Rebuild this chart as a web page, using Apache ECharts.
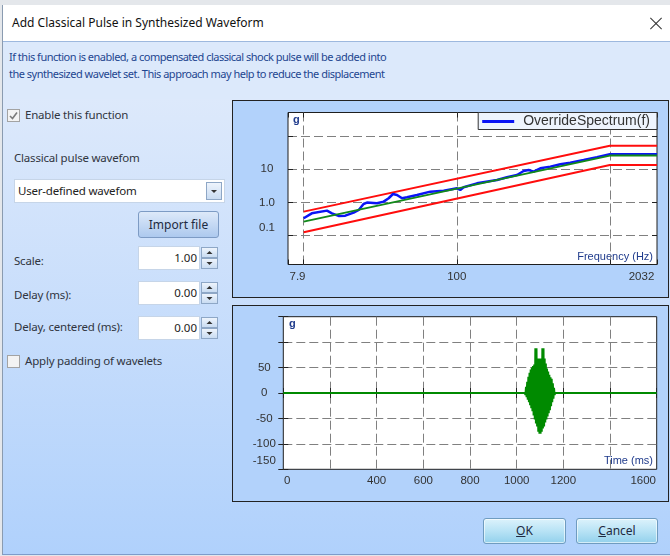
<!DOCTYPE html>
<html>
<head>
<meta charset="utf-8">
<title>Add Classical Pulse in Synthesized Waveform</title>
<script src="https://cdn.jsdelivr.net/npm/echarts@6/dist/echarts.min.js"></script>
<style>
  body { margin: 0; width: 670px; height: 556px; overflow: hidden; background: #e4e7eb; position: relative; font-family: "Noto Sans", sans-serif; }
  .abs { position: absolute; }
  .dlg { left: 2px; top: 5px; width: 667px; height: 549px; border-left: 1px solid #8a9bb0; border-bottom: 1px solid #7e9ccb;
         background: linear-gradient(to bottom, #dde9fb 0px, #dde9fb 93px, #b0d1fc 549px); }
  .titlebar { left: 3px; top: 5px; width: 667px; height: 36px; background: #fff; }
  .title { left: 12px; top: 5px; height: 36px; line-height: 36px; font-size: 12px; color: #111; }
  .xline { width: 16px; height: 1px; background: #333; left: 648px; top: 23px; }
  .info { left: 3px; top: 41px; width: 667px; height: 57px; background: #dce9fb; border-top: 1px solid #9db8de; }
  .infotext { left: 9px; top: 48px; font-size: 11px; line-height: 17px; letter-spacing: -0.5px; color: #1e4690; white-space: nowrap; }
  .lbl { font-size: 11.5px; color: #303540; white-space: nowrap; letter-spacing: -0.2px; }
  .chk { width: 11px; height: 11px; border: 1px solid #a3a3a3; background: #f3f3f3; }
  .field { background: #fff; border: 1px solid #c6d5e8; box-sizing: border-box; }
  .val { font-size: 11.5px; color: #222; text-align: right; padding-right: 2px; line-height: 21px; }
  .spin { width: 17px; height: 11px; box-sizing: border-box; border: 1px solid #8ea7c6; background: linear-gradient(#eef4fc, #c9dcf2); }
  .btn { box-sizing: border-box; border: 1px solid #7d9bc4; border-radius: 3px; text-align: center; font-size: 12px; color: #1e2a40; }
  .imp { background: linear-gradient(#dde9f9, #adc9ee); }
  .okbtn { border-color: #6f9cc0; background: linear-gradient(#dcf2fb 0%, #b8e3f5 50%, #92d1ec 100%); box-shadow: inset 0 0 0 1px rgba(255,255,255,0.6); line-height: 24px; }
  .panel { box-sizing: border-box; border: 1px solid #222; background: #b2d2fb; }
</style>
</head>
<body>
<div class="abs dlg"></div>
<div class="abs titlebar"></div>
<div class="abs title">Add Classical Pulse in Synthesized Waveform</div>
<div class="abs xline" style="transform: rotate(45deg)"></div>
<div class="abs xline" style="transform: rotate(-45deg)"></div>
<div class="abs info"></div>
<div class="abs infotext">If this function is enabled, a compensated classical shock pulse will be added into<br>the synthesized wavelet set. This approach may help to reduce the displacement</div>

<!-- left side controls -->
<div class="abs chk" style="left:7px; top:109px;">
  <svg width="11" height="11" style="display:block"><polyline points="2,6 4.5,8.5 9,2.5" fill="none" stroke="#7a7a7a" stroke-width="1.6"/></svg>
</div>
<div class="abs lbl" style="left:25px; top:107px;">Enable this function</div>
<div class="abs lbl" style="left:14px; top:150px;">Classical pulse wavefom</div>
<div class="abs field" style="left:14px; top:179px; width:211px; height:24px;"></div>
<div class="abs lbl" style="left:18px; top:183px; color:#222;">User-defined wavefom</div>
<div class="abs spin" style="left:206px; top:182px; height:18px; width:16px;">
  <svg width="14" height="16" style="display:block"><polygon points="4,7 10,7 7,10" fill="#333"/></svg>
</div>
<div class="abs btn imp" style="left:138px; top:211px; width:81px; height:27px; line-height:25px;">Import file</div>

<div class="abs lbl" style="left:14px; top:253px;">Scale:</div>
<div class="abs field val" style="left:138px; top:246px; width:62px; height:24px;">1.00</div>
<div class="abs spin" style="left:201px; top:247px;"><svg width="15" height="9" style="display:block"><polygon points="4.5,6 10.5,6 7.5,3" fill="#333"/></svg></div>
<div class="abs spin" style="left:201px; top:258px;"><svg width="15" height="9" style="display:block"><polygon points="4.5,3 10.5,3 7.5,6" fill="#333"/></svg></div>

<div class="abs lbl" style="left:14px; top:287px;">Delay (ms):</div>
<div class="abs field val" style="left:138px; top:281px; width:62px; height:24px;">0.00</div>
<div class="abs spin" style="left:201px; top:282px;"><svg width="15" height="9" style="display:block"><polygon points="4.5,6 10.5,6 7.5,3" fill="#333"/></svg></div>
<div class="abs spin" style="left:201px; top:293px;"><svg width="15" height="9" style="display:block"><polygon points="4.5,3 10.5,3 7.5,6" fill="#333"/></svg></div>

<div class="abs lbl" style="left:14px; top:319px;">Delay, centered (ms):</div>
<div class="abs field val" style="left:138px; top:316px; width:62px; height:24px;">0.00</div>
<div class="abs spin" style="left:201px; top:317px;"><svg width="15" height="9" style="display:block"><polygon points="4.5,6 10.5,6 7.5,3" fill="#333"/></svg></div>
<div class="abs spin" style="left:201px; top:328px;"><svg width="15" height="9" style="display:block"><polygon points="4.5,3 10.5,3 7.5,6" fill="#333"/></svg></div>

<div class="abs chk" style="left:7px; top:355px;"></div>
<div class="abs lbl" style="left:25px; top:353px;">Apply padding of wavelets</div>

<!-- chart panels -->
<div class="abs panel" style="left:232px; top:100px; width:437px; height:198px;">
  <div id="spec" style="position:absolute; left:0; top:0; width:435px; height:196px;"></div>
</div>
<div class="abs panel" style="left:232px; top:305px; width:437px; height:197px;">
  <div id="wave" style="position:absolute; left:0; top:0; width:435px; height:195px;"></div>
</div>

<div class="abs btn okbtn" style="left:483px; top:518px; width:83px; height:26px;"><u>O</u>K</div>
<div class="abs btn okbtn" style="left:576px; top:518px; width:82px; height:26px;"><u>C</u>ancel</div>

<script>
(function(){
  // ---- spectrum chart data (log-log) ----
  var freqLabelValues = [7.9, 100, 2032];
  var freqLabelText = ['7.9', '100', '2032'];
  var gLabelValues = [0.1, 1, 10];
  var gLabelText = ['0.1', '1.0', '10'];

  var toleranceFreq = [10, 1000, 2032];
  var upperLimit = [0.53, 51, 51];
  var referenceSpec = [0.265, 25.7, 25.7];
  var lowerLimit = [0.127, 13.4, 13.4];

  var overrideFreq = [10, 11.3, 14.2, 15.3, 16.9, 18.7, 21.2, 22.9, 24.6, 25.9, 30.1, 33.3, 35.9, 38.3,
    40.7, 43.9, 47.3, 55.0, 67.2, 82.1, 100.3, 105.4, 110.9, 135.5, 183, 212.7, 247.4, 273.4, 294.7,
    317.7, 351.3, 408.3, 474.6, 551.3, 674, 823.6, 1000, 2032];
  var overrideG = [0.334, 0.472, 0.568, 0.472, 0.393, 0.402, 0.494, 0.594, 0.90, 0.99, 0.944, 1.06, 1.34, 1.80,
    1.68, 1.34, 1.43, 1.68, 2.12, 2.27, 2.67, 2.38, 2.86, 3.77, 4.75, 5.72, 6.72, 8.87, 9.5,
    8.47, 10.7, 12.0, 14.1, 15.8, 19.0, 22.9, 28.2, 28.2];

  // ---- time history data ----
  var timeLabelValues = [0, 400, 600, 800, 1000, 1200, 1600];
  var waveLabelValues = [-150, -100, -50, 0, 50];
  var waveTime = [0, 1035, 1037.5, 1040, 1042.5, 1045, 1047.5, 1050, 1052.5, 1055, 1057.5, 1060, 1062.5,
    1065, 1067.5, 1070, 1072.5, 1075, 1077.5, 1080, 1082.5, 1085, 1087.5, 1090, 1092.5, 1095, 1097.5,
    1100, 1102.5, 1105, 1107.5, 1110, 1112.5, 1115, 1117.5, 1120, 1122.5, 1125, 1127.5, 1130, 1132.5,
    1135, 1137.5, 1140, 1142.5, 1145, 1147.5, 1150, 1152.5, 1155, 1157.5, 1160, 1162.5, 1165, 1600];
  var waveG = [0, 0, -4, 12, -8, 22, -13, 32, -18, 40, -24, 46, -30,
    50, -36, 53, -44, 56, -52, 88, -60, 88, -66, 68, -76, 68, -80,
    68, -80, 68, -76, 88, -70, 88, -66, 68, -58, 58, -52, 48, -46,
    42, -40, 36, -34, 31, -26, 28, -18, 19, -11, 10, -4, 0, 0];

  function pairs(xs, ys) {
    var out = [];
    for (var i = 0; i < xs.length; i++) out.push([xs[i], ys[i]]);
    return out;
  }
  function logLabel(v, vals, texts) {
    for (var i = 0; i < vals.length; i++) {
      if (Math.abs(Math.log10(v / vals[i])) < 0.005) return texts[i];
    }
    return '';
  }

  var axisFont = { color: '#333', fontSize: 11.5, fontFamily: 'Liberation Sans, Arial, sans-serif' };
  var unitStyle = { fill: '#1f3b8c', fontSize: 11, fontFamily: 'Liberation Sans, Arial, sans-serif' };
  var gridLine = { show: true, showMinLine: false, showMaxLine: false, lineStyle: { color: '#808080', width: 1, type: [9, 4] } };
  var innerTick = { show: true, inside: true, length: 5, lineStyle: { color: '#222' } };

  var chart1 = echarts.init(document.getElementById('spec'));
  var option = {
    animation: false,
    grid: { left: 55, top: 11.5, width: 369, height: 152, show: true, backgroundColor: '#fff',
            borderColor: '#1e1e1e', borderWidth: 1, outerBoundsMode: 'none' },
    legend: {
      data: ['OverrideSpectrum(f)'],
      right: 11, top: 11.5,
      icon: 'rect', itemWidth: 32, itemHeight: 3,
      padding: [2, 7, 1, 4],
      backgroundColor: '#eef4fd', borderColor: '#333', borderWidth: 1,
      textStyle: { color: '#333', fontSize: 14, fontFamily: 'Liberation Sans, Arial, sans-serif', padding: [0, 0, 0, 4] }
    },
    xAxis: [{
      type: 'log', min: 7.9, max: 2032,
      axisLine: { show: false }, axisTick: innerTick, splitLine: gridLine,
      axisLabel: {
        margin: 6, showMinLabel: true, showMaxLabel: true,
        color: axisFont.color, fontSize: axisFont.fontSize, fontFamily: axisFont.fontFamily,
        formatter: function (v) {
          var t = logLabel(v, freqLabelValues, freqLabelText);
          if (t === freqLabelText[0]) return '{first|' + t + '}';
          if (t === freqLabelText[freqLabelText.length - 1]) return '{last|' + t + '}';
          return t;
        },
        rich: {
          first: { padding: [0, 0, 0, 19], color: '#333', fontSize: 11.5, fontFamily: axisFont.fontFamily },
          last: { padding: [0, 31, 0, 0], color: '#333', fontSize: 11.5, fontFamily: axisFont.fontFamily }
        }
      }
    }, {
      type: 'log', min: 7.9, max: 2032, position: 'top',
      axisLine: { show: false }, axisTick: innerTick, axisLabel: { show: false }, splitLine: { show: false }
    }],
    yAxis: [{
      type: 'log', min: 0.0136, max: 510,
      axisLine: { show: false }, axisTick: innerTick, splitLine: gridLine,
      axisLabel: {
        margin: 21, align: 'center',
        color: axisFont.color, fontSize: axisFont.fontSize, fontFamily: axisFont.fontFamily,
        formatter: function (v) {
          var t = logLabel(v, gLabelValues, gLabelText);
          if (t === gLabelText[0]) return '{low|' + t + '}';
          return t;
        },
        rich: { low: { padding: [0, 0, 16, 0], color: '#333', fontSize: 11.5, fontFamily: axisFont.fontFamily } }
      }
    }, {
      type: 'log', min: 0.0136, max: 510, position: 'right',
      axisLine: { show: false }, axisTick: innerTick, axisLabel: { show: false }, splitLine: { show: false }
    }],
    graphic: [
      { type: 'text', left: 60, top: 13, style: Object.assign({ text: 'g', fontWeight: 'bold' }, unitStyle) },
      { type: 'text', right: 15, top: 150, style: Object.assign({ text: 'Frequency (Hz)' }, unitStyle) }
    ],
    series: [
      { type: 'line', symbol: 'none', data: pairs(toleranceFreq, upperLimit), lineStyle: { color: '#ff0d0d', width: 2 }, itemStyle: { color: '#ff0d0d' } },
      { type: 'line', symbol: 'none', data: pairs(toleranceFreq, lowerLimit), lineStyle: { color: '#ff0d0d', width: 2 }, itemStyle: { color: '#ff0d0d' } },
      { name: 'OverrideSpectrum(f)', type: 'line', symbol: 'none', data: pairs(overrideFreq, overrideG), lineStyle: { color: '#0a14f5', width: 2.5 }, itemStyle: { color: '#0a14f5' } },
      { type: 'line', symbol: 'none', data: pairs(toleranceFreq, referenceSpec), lineStyle: { color: '#12891a', width: 2 }, itemStyle: { color: '#12891a' } }
    ]
  };
  chart1.setOption(option);

  var chart2 = echarts.init(document.getElementById('wave'));
  option = {
    animation: false,
    grid: { left: 50.3, top: 10.7, width: 373.4, height: 152.6, show: true, backgroundColor: '#fff',
            borderColor: '#1e1e1e', borderWidth: 1, outerBoundsMode: 'none' },
    xAxis: [{
      type: 'value', min: 0, max: 1600, interval: 200,
      axisLine: { show: false }, axisTick: innerTick, splitLine: gridLine,
      axisLabel: {
        margin: 6, showMinLabel: true, showMaxLabel: true,
        color: axisFont.color, fontSize: axisFont.fontSize, fontFamily: axisFont.fontFamily,
        formatter: function (v) {
          if (timeLabelValues.indexOf(v) < 0) return '';
          if (v === timeLabelValues[0]) return '{first|' + v + '}';
          if (v === timeLabelValues[timeLabelValues.length - 1]) return '{last|' + v + '}';
          return String(v);
        },
        rich: {
          first: { padding: [0, 0, 0, 8], color: '#333', fontSize: 11.5, fontFamily: axisFont.fontFamily },
          last: { padding: [0, 27, 0, 0], color: '#333', fontSize: 11.5, fontFamily: axisFont.fontFamily }
        }
      }
    }, {
      type: 'value', min: 0, max: 1600, interval: 200, position: 'top',
      axisLine: { show: false }, axisTick: innerTick, axisLabel: { show: false }, splitLine: { show: false }
    }],
    yAxis: [{
      type: 'value', min: -150, max: 150, interval: 50,
      axisLine: { show: false }, axisTick: innerTick, splitLine: gridLine,
      axisLabel: {
        margin: 19, align: 'center', showMinLabel: true,
        color: axisFont.color, fontSize: axisFont.fontSize, fontFamily: axisFont.fontFamily,
        formatter: function (v) {
          if (waveLabelValues.indexOf(v) < 0) return '';
          if (v === waveLabelValues[0]) return '{low|' + v + '}';
          return String(v);
        },
        rich: { low: { padding: [0, 0, 17, 0], color: '#333', fontSize: 11.5, fontFamily: axisFont.fontFamily } }
      }
    }, {
      type: 'value', min: -150, max: 150, interval: 50, position: 'right',
      axisLine: { show: false }, axisTick: innerTick, axisLabel: { show: false }, splitLine: { show: false }
    }],
    graphic: [
      { type: 'text', left: 56, top: 12, style: Object.assign({ text: 'g', fontWeight: 'bold' }, unitStyle) },
      { type: 'text', right: 15, top: 149, style: Object.assign({ text: 'Time (ms)' }, unitStyle) }
    ],
    series: [
      { type: 'line', symbol: 'none', data: pairs(waveTime, waveG), lineStyle: { color: '#008a00', width: 2 }, itemStyle: { color: '#008a00' } }
    ]
  };
  chart2.setOption(option);
})()
</script>
</body>
</html>
